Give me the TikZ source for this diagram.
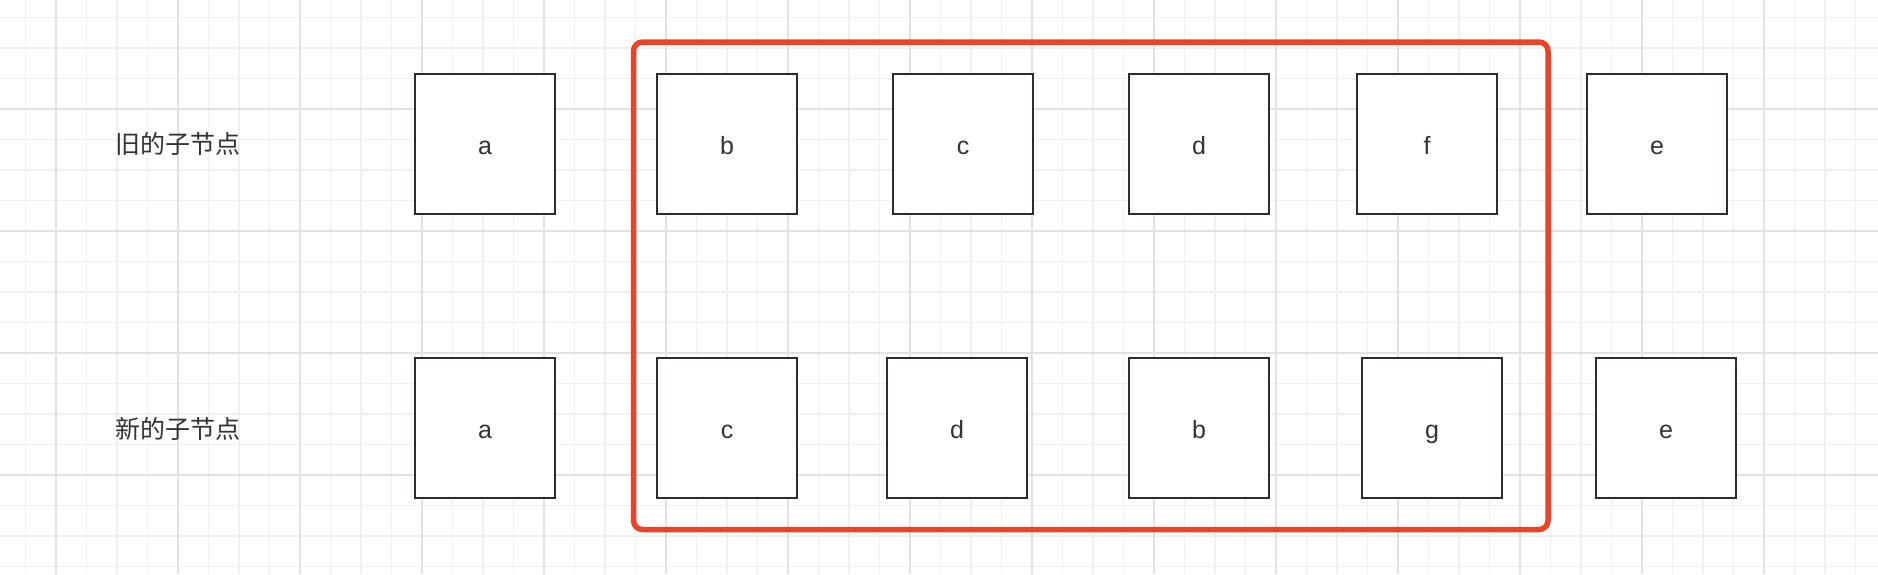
\documentclass[tikz,border=0pt]{standalone}
\usepackage{fontspec}
\setmainfont{Liberation Sans}
\newfontfamily\cjk{Noto Sans CJK SC}
\usepackage{tikz}

\definecolor{gridminor}{RGB}{240,240,240}
\definecolor{gridmajor}{RGB}{226,226,226}
\definecolor{boxline}{RGB}{42,46,51}
\definecolor{txt}{RGB}{51,51,51}
\definecolor{redline}{RGB}{234,67,40}

\begin{document}
\begin{tikzpicture}[x=1pt,y=-1pt,
                    box/.style={draw=boxline,line width=2.8pt,fill=white,
                      minimum size=140pt,inner sep=0pt,text=txt,
                      text height=20pt,text depth=0pt,
                      font=\fontsize{25}{25}\selectfont},
                    label/.style={text=txt,font=\cjk\fontsize{25}{25}\selectfont}]
  \useasboundingbox (0,0) rectangle (1878,574);

  % grid
  \foreach \i in {0,...,60}
    \draw[gridminor,line width=1.5pt] (25.5+30.5*\i,0) -- (25.5+30.5*\i,574);
  \foreach \j in {0,...,18}
    \draw[gridminor,line width=1.5pt] (0,17.5+30.5*\j) -- (1878,17.5+30.5*\j);
  \foreach \i in {0,...,14}
    \draw[gridmajor,line width=2pt] (56+122*\i,0) -- (56+122*\i,574);
  \foreach \j in {0,...,3}
    \draw[gridmajor,line width=2pt] (0,109+122*\j) -- (1878,109+122*\j);

  \node[label] (old) at (178,144) {旧的子节点};
  \node[label] (new) at (178,429) {新的子节点};

  \node[box] (oa) at (485,144) {a};
  \node[box] (ob) at (727,144) {b};
  \node[box] (oc) at (963,144) {c};
  \node[box] (od) at (1199,144) {d};
  \node[box] (of) at (1427,144) {f};
  \node[box] (oe) at (1657,144) {e};

  \node[box] (na) at (485,428) {a};
  \node[box] (nc) at (727,428) {c};
  \node[box] (nd) at (957,428) {d};
  \node[box] (nb) at (1199,428) {b};
  \node[box] (ng) at (1432,428) {g};
  \node[box] (ne) at (1666,428) {e};

  \draw[redline,line width=5.5pt,rounded corners=9pt]
    (633.5,42) rectangle (1548,529.5);
\end{tikzpicture}
\end{document}
